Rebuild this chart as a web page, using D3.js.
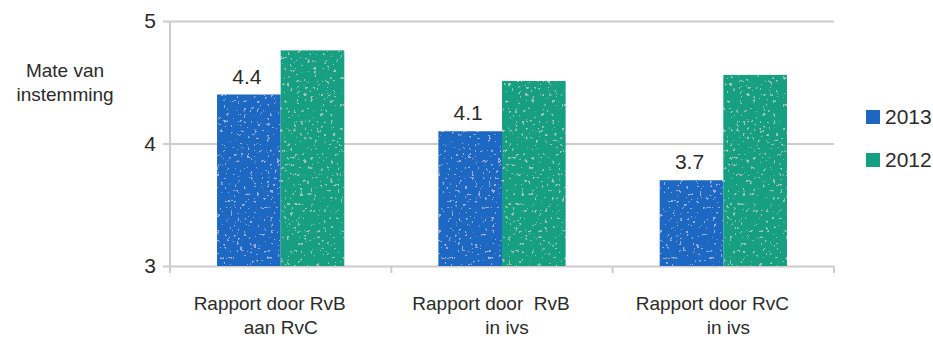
<!DOCTYPE html>
<html>
<head>
<meta charset="utf-8">
<script src="https://cdn.jsdelivr.net/npm/d3@7"></script>
<style>
  html, body { margin: 0; padding: 0; background: #fff; }
  svg { display: block; }
  text { font-family: "Liberation Sans Narrow", "Liberation Sans", Arial, sans-serif; fill: #2b2b2b; white-space: pre; }
</style>
</head>
<body>
<svg id="chart" width="933" height="339"></svg>
<script>
// Categories (two-line labels) and the two yearly series
const categories = ["RvB aan RvC", "RvB in ivs", "RvC in ivs"];
const categoryLines = [
  ["Rapport door RvB", "aan RvC"],
  ["Rapport door  RvB", "in ivs"],
  ["Rapport door RvC", "in ivs"]
];
const seriesNames = ["2013", "2012"];
const values2013 = [4.4, 4.1, 3.7];
const values2012 = [4.76, 4.51, 4.56];
const valueLabels2013 = ["4.4", "4.1", "3.7"];
const yTicks = [3, 4, 5];
const colors = ["#1b67c2", "#12a081"];

const svg = d3.select("#chart");
const plotLeft = 170, plotRight = 834, plotTop = 21, plotBottom = 266;

const x = d3.scaleBand().domain(categories).range([plotLeft, plotRight]).padding(0);
const x1 = d3.scaleBand().domain(seriesNames)
  .range([0, x.bandwidth() * 0.575]).padding(0);
const y = d3.scaleLinear().domain([3, 5]).range([plotBottom, plotTop]);

// sparse light speckle texture for the bars
const defs = svg.append("defs");
const f = defs.append("filter").attr("id", "speckle")
  .attr("x", 0).attr("y", 0).attr("width", 1).attr("height", 1);
f.append("feTurbulence").attr("type", "fractalNoise")
  .attr("baseFrequency", 0.3).attr("numOctaves", 2).attr("seed", 7).attr("result", "noise");
f.append("feColorMatrix").attr("in", "noise").attr("type", "matrix")
  .attr("values", "0 0 0 0 1  0 0 0 0 1  0 0 0 0 1  0 0 0 -40 12.8")
  .attr("result", "dots");
f.append("feComposite").attr("in", "dots").attr("in2", "SourceGraphic")
  .attr("operator", "in").attr("result", "dotsIn");
f.append("feComponentTransfer").attr("in", "dotsIn").attr("result", "dotsSoft")
  .append("feFuncA").attr("type", "linear").attr("slope", 0.32);
const fm = f.append("feMerge");
fm.append("feMergeNode").attr("in", "SourceGraphic");
fm.append("feMergeNode").attr("in", "dotsSoft");

const gridColor = "#cccccc";

// y axis with full-width gridlines
const yAxis = svg.append("g")
  .attr("transform", `translate(${plotLeft},0)`)
  .call(d3.axisLeft(y).tickValues(yTicks).tickFormat(d3.format("d"))
    .tickSizeInner(-(plotRight - plotLeft)).tickSizeOuter(0).tickPadding(14));
yAxis.select(".domain").remove();
yAxis.selectAll(".tick line").attr("x1", -7).attr("stroke", gridColor).attr("stroke-width", 2);
yAxis.selectAll(".tick text").attr("font-size", 21).attr("fill", "#2b2b2b")
  .style("font-family", "'Liberation Sans Narrow', 'Liberation Sans', Arial, sans-serif");

// vertical axis line
svg.append("line")
  .attr("x1", plotLeft).attr("x2", plotLeft)
  .attr("y1", y(5)).attr("y2", plotBottom + 7)
  .attr("stroke", gridColor).attr("stroke-width", 2);

// category boundary ticks
const bounds = categories.map(c => x(c)).concat([x.range()[1]]);
svg.append("g").selectAll("line").data(bounds.slice(1)).join("line")
  .attr("x1", d => d).attr("x2", d => d)
  .attr("y1", plotBottom).attr("y2", plotBottom + 7)
  .attr("stroke", gridColor).attr("stroke-width", 2);

// bars
const rows = categories.map((c, i) => ({ c, i, vals: [values2013[i], values2012[i]] }));
const groupOffset = (x.bandwidth() - x1.range()[1]) / 2;
const groups = svg.append("g").selectAll("g").data(rows).join("g")
  .attr("transform", d => `translate(${x(d.c) + groupOffset},0)`);
groups.selectAll("rect")
  .data(d => d.vals.map((v, k) => ({ v, k })))
  .join("rect")
  .attr("x", d => x1(seriesNames[d.k]))
  .attr("width", x1.bandwidth())
  .attr("y", d => y(d.v))
  .attr("height", d => y(3) - y(d.v))
  .attr("fill", d => colors[d.k])
  .attr("filter", "url(#speckle)");

// value labels over the 2013 bars
groups.append("text")
  .attr("x", x1(seriesNames[0]) + x1.bandwidth() / 2 - 2)
  .attr("y", d => y(values2013[d.i]) - 11)
  .attr("text-anchor", "middle")
  .attr("font-size", 21)
  .text(d => valueLabels2013[d.i]);

// category labels
const catG = svg.append("g").selectAll("text").data(rows).join("text")
  .attr("text-anchor", "middle")
  .attr("font-size", 19);
catG.append("tspan")
  .attr("x", d => x(d.c) + x.bandwidth() / 2 - 11)
  .attr("y", 310)
  .text(d => categoryLines[d.i][0]);
catG.append("tspan")
  .attr("x", d => x(d.c) + x.bandwidth() / 2 + [0, 5, 5][d.i])
  .attr("y", 334)
  .text(d => categoryLines[d.i][1]);

// y axis title
const yt = svg.append("text").attr("text-anchor", "middle").attr("font-size", 19);
yt.append("tspan").attr("x", 65).attr("y", 77).text("Mate van");
yt.append("tspan").attr("x", 65).attr("y", 101).text("instemming");

// legend
const lg = svg.append("g").selectAll("g").data(seriesNames).join("g")
  .attr("transform", (d, i) => `translate(866,${110 + i * 43})`);
lg.append("rect").attr("width", 14).attr("height", 14).attr("fill", (d, i) => colors[i]);
lg.append("text").attr("x", 19).attr("y", 14).attr("font-size", 21).text(d => d);
</script>
</body>
</html>
